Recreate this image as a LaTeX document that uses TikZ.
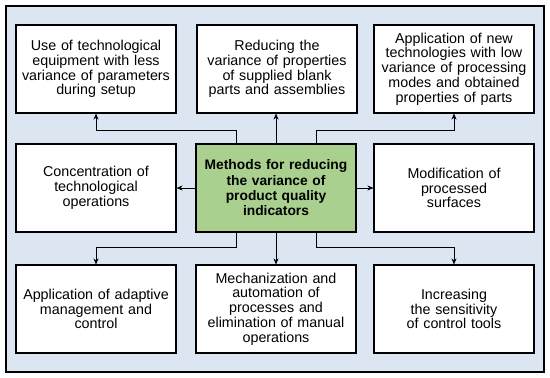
\documentclass[tikz,border=0pt]{standalone}
\usepackage{fontspec}
\setmainfont{Liberation Sans}
\usetikzlibrary{arrows.meta}
\definecolor{bgblue}{HTML}{DCE6F2}
\definecolor{boxgreen}{HTML}{A9D08E}
\begin{document}
\begin{tikzpicture}[x=1pt,y=-1pt,
  box/.style={draw=black, line width=1.1pt, fill=white, minimum width=160pt, minimum height=88pt,
    text width=156pt, align=center, inner sep=0pt, font=\fontsize{14.3}{14.7}\selectfont},
  mainbox/.style={box, fill=boxgreen, font=\fontsize{13.8}{15.3}\selectfont\bfseries},
  arr/.style={draw=black, line width=0.9pt, -{Stealth[length=6pt,width=5pt]}}]
\useasboundingbox (0,0) rectangle (550,378);
\draw[fill=bgblue, line width=1.3pt] (6,6) rectangle (544,372);
\node[box] (tl) at (96,69) {Use of technological\\ equipment with less\\ variance of parameters\\ during setup};
\node[box] (tm) at (277,69) {Reducing the\\ variance of properties\\ of supplied blank\\ parts and assemblies};
\node[box] (tr) at (454,69) {Application of new\\ technologies with low\\ variance of processing\\ modes and obtained\\ properties of parts};
\node[box] (ml) at (96,188) {Concentration of\\ technological\\ operations};
\node[mainbox] (mc) at (276,188) {Methods for reducing\\ the variance of\\ product quality\\ indicators};
\node[box] (mr) at (454,188) {Modification of\\ processed\\ surfaces};
\node[box] (bl) at (96,309) {Application of adaptive\\ management and\\ control};
\node[box] (bm) at (276,309) {Mechanization and\\ automation of\\ processes and\\ elimination of manual\\ operations};
\node[box] (br) at (454,309) {Increasing\\ the sensitivity\\ of control tools};
\draw[arr] ([xshift=41pt]mc.north west) -- ++(0,-13) -| (tl.south);
\draw[arr] (mc.north) -- (mc.north |- tm.south);
\draw[arr] ([xshift=-40pt]mc.north east) -- ++(0,-13) -| (tr.south);
\draw[arr] (mc.west) -- (ml.east);
\draw[arr] (mc.east) -- (mr.east -| mr.west);
\draw[arr] ([xshift=41pt]mc.south west) -- ++(0,15) -| (bl.north);
\draw[arr] (mc.south) -- (bm.north);
\draw[arr] ([xshift=-40pt]mc.south east) -- ++(0,15) -| (br.north);
\end{tikzpicture}
\end{document}
